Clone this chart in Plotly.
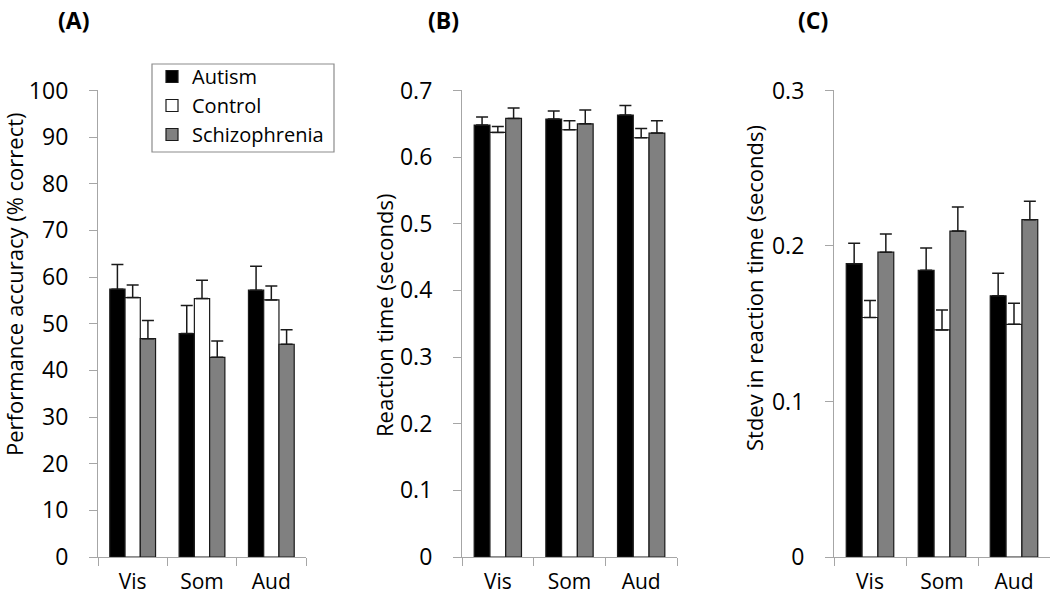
import plotly.graph_objects as go

categories = ["Vis", "Som", "Aud"]
groups = ["Autism", "Control", "Schizophrenia"]

# Panel A: performance accuracy (% correct)
acc_autism = [57.4, 47.9, 57.2]
acc_autism_err = [5.3, 6.0, 5.1]
acc_control = [55.6, 55.4, 55.1]
acc_control_err = [2.7, 3.9, 3.0]
acc_schiz = [46.8, 42.8, 45.6]
acc_schiz_err = [3.9, 3.5, 3.1]
acc_ticks = [0, 10, 20, 30, 40, 50, 60, 70, 80, 90, 100]
acc_ticktext = ["0", "10", "20", "30", "40", "50", "60", "70", "80", "90", "100"]

# Panel B: reaction time (seconds)
rt_autism = [0.648, 0.657, 0.663]
rt_autism_err = [0.012, 0.012, 0.0145]
rt_control = [0.637, 0.641, 0.629]
rt_control_err = [0.009, 0.0135, 0.014]
rt_schiz = [0.658, 0.650, 0.636]
rt_schiz_err = [0.0155, 0.0205, 0.0186]
rt_ticks = [0, 0.1, 0.2, 0.3, 0.4, 0.5, 0.6, 0.7]
rt_ticktext = ["0", "0.1", "0.2", "0.3", "0.4", "0.5", "0.6", "0.7"]

# Panel C: stdev in reaction time (seconds)
sd_autism = [0.1886, 0.1844, 0.168]
sd_autism_err = [0.0131, 0.0143, 0.0144]
sd_control = [0.154, 0.146, 0.1496]
sd_control_err = [0.011, 0.0128, 0.0135]
sd_schiz = [0.196, 0.2096, 0.2169]
sd_schiz_err = [0.0117, 0.0155, 0.0118]
sd_ticks = [0, 0.1, 0.2, 0.3]
sd_ticktext = ["0", "0.1", "0.2", "0.3"]

colors = {"Autism": "#000000", "Control": "#ffffff", "Schizophrenia": "#808080"}
FONT = "Open Sans"
AXC = "#a6a6a6"
W, H = 1050, 599

panels = [
    ("x", "y", [acc_autism, acc_control, acc_schiz], [acc_autism_err, acc_control_err, acc_schiz_err]),
    ("x2", "y2", [rt_autism, rt_control, rt_schiz], [rt_autism_err, rt_control_err, rt_schiz_err]),
    ("x3", "y3", [sd_autism, sd_control, sd_schiz], [sd_autism_err, sd_control_err, sd_schiz_err]),
]

fig = go.Figure()
for pi, (xa, ya, vals, errs) in enumerate(panels):
    for g, v, e in zip(groups, vals, errs):
        fig.add_trace(go.Bar(
            x=categories, y=v, name=g, xaxis=xa, yaxis=ya,
            marker=dict(color=colors[g], line=dict(color="#1a1a1a", width=1.2)),
            error_y=dict(type="data", array=e, arrayminus=[0] * len(e), symmetric=False,
                         color="#1a1a1a", thickness=1.5, width=6),
            showlegend=(pi == 0), legendgroup=g,
        ))

ydom = [0.0701, 0.849]
xdoms = [[98 / W, 306 / W], [462 / W, 677 / W], [834 / W, 1.0]]
yranges = [[0, 100], [0, 0.7], [0, 0.3]]
yticks = [(acc_ticks, acc_ticktext), (rt_ticks, rt_ticktext), (sd_ticks, sd_ticktext)]

layout = dict(
    width=W, height=H,
    margin=dict(l=0, r=0, t=0, b=0),
    paper_bgcolor="white", plot_bgcolor="white",
    font=dict(family=FONT, color="black"),
    barmode="group", bargap=0.34, bargroupgap=0,
    legend=dict(x=152 / W, y=(H - 57) / H, xanchor="left", yanchor="top",
                borderwidth=0, bgcolor="rgba(0,0,0,0)",
                font=dict(family=FONT, size=20, color="black"),
                tracegroupgap=0, itemwidth=30),
)
for i in range(3):
    sx = "" if i == 0 else str(i + 1)
    layout["xaxis" + sx] = dict(
        domain=xdoms[i], anchor="y" + sx, type="category",
        showline=True, linecolor=AXC, linewidth=1.2,
        ticks="outside", tickson="boundaries", ticklen=8, tickcolor=AXC, tickwidth=1.2,
        tickfont=dict(family=FONT, size=21, color="black"), ticklabelstandoff=6,
        showgrid=False, zeroline=False, automargin=False, fixedrange=True,
    )
    layout["yaxis" + sx] = dict(
        domain=ydom, anchor="x" + sx, range=yranges[i],
        tickvals=yticks[i][0], ticktext=yticks[i][1],
        showline=True, linecolor=AXC, linewidth=1.2,
        ticks="outside", ticklen=8, tickcolor=AXC, tickwidth=1.2,
        tickfont=dict(family=FONT, size=23, color="black"), ticklabelstandoff=16,
        showgrid=False, zeroline=False, automargin=False, fixedrange=True,
    )
fig.update_layout(**layout)

# legend frame
fig.add_shape(type="rect", xref="paper", yref="paper",
              x0=152 / W, x1=334 / W, y0=(H - 152) / H, y1=(H - 64) / H,
              line=dict(color="#8c8c8c", width=1.2), fillcolor="rgba(0,0,0,0)", layer="below")

annotations = [
    dict(text="<b>(A)</b>", x=73, y=20, size=23),
    dict(text="<b>(B)</b>", x=443, y=20, size=23),
    dict(text="<b>(C)</b>", x=813, y=20, size=23),
]
for a in annotations:
    fig.add_annotation(text=a["text"], x=a["x"] / W, y=(H - a["y"]) / H,
                       xref="paper", yref="paper", showarrow=False,
                       font=dict(family=FONT, size=a["size"], color="black"),
                       xanchor="center", yanchor="middle")

ytitles = [
    ("Performance accuracy (% correct)", 14, 284),
    ("Reaction time (seconds)", 384, 316),
    ("Stdev in reaction time (seconds)", 754, 288),
]
for t, x, y in ytitles:
    fig.add_annotation(text=t, x=x / W, y=(H - y) / H, xref="paper", yref="paper",
                       showarrow=False, textangle=-90,
                       font=dict(family=FONT, size=22, color="black"),
                       xanchor="center", yanchor="middle")

fig.write_html("out.html", config={"displayModeBar": False},
               post_script="document.body.style.margin='0';")
